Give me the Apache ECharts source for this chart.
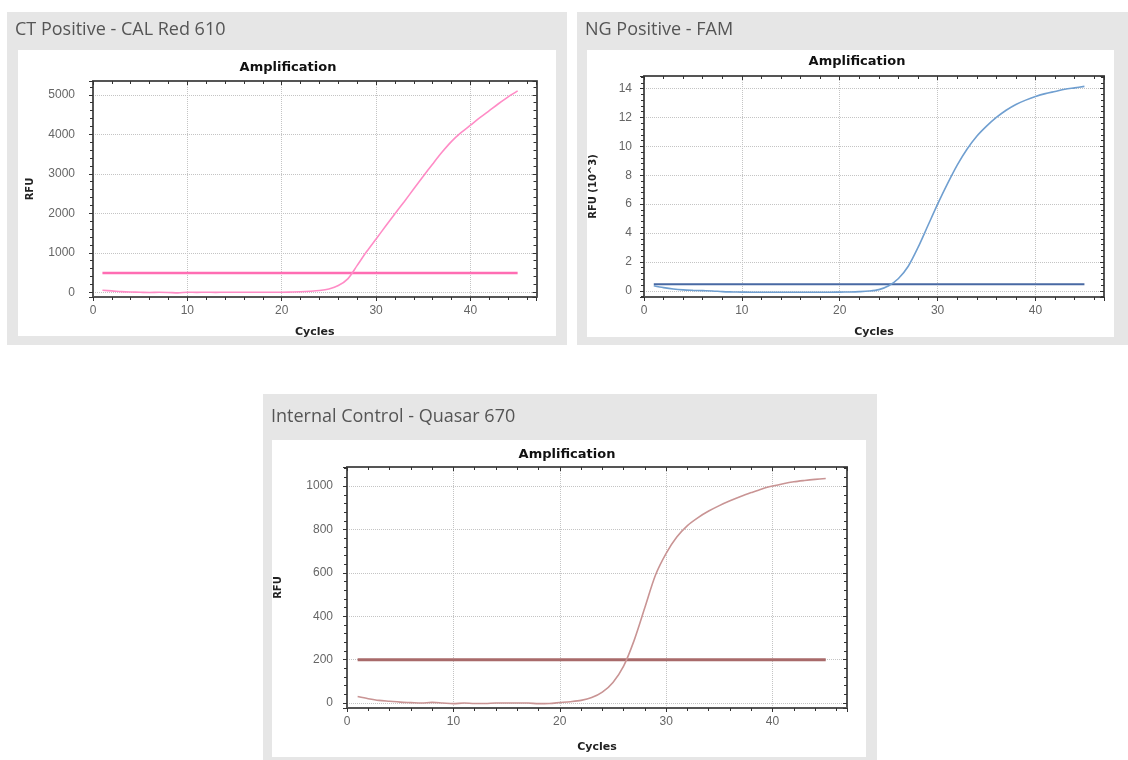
<!DOCTYPE html>
<html>
<head>
<meta charset="utf-8">
<script src="https://cdn.jsdelivr.net/npm/echarts@6/dist/echarts.min.js"></script>
<style>
  html, body { margin: 0; padding: 0; background: #fff; }
  #main { width: 1128px; height: 760px; }
</style>
</head>
<body>
<div id="main"></div>
<script>
// cycle numbers (x) shared by all three runs
var cycles = [1, 2, 3, 4, 5, 6, 7, 8, 9, 10, 11, 12, 13, 14, 15, 16, 17, 18, 19, 20,
  21, 22, 23, 24, 25, 26, 27, 28, 29, 30, 31, 32, 33, 34, 35, 36, 37, 38, 39, 40,
  41, 42, 43, 44, 45];

// CT Positive - CAL Red 610 (RFU)
var ctRfu = [50, 35, 15, 5, 0, -5, 0, -5, -15, 0, -3, 0, -2, 0, 0, 0, 0, 0, 0, 0,
  5, 12, 25, 45, 85, 170, 340, 680, 1030, 1350, 1670, 1990, 2300, 2620, 2940, 3250, 3550, 3820, 4040, 4230,
  4420, 4600, 4780, 4950, 5100];
var ctThreshold = 490;

// NG Positive - FAM (RFU x 10^3)
var ngRfu = [0.35, 0.22, 0.12, 0.06, 0.03, 0.01, -0.01, -0.06, -0.08, -0.09, -0.1, -0.1, -0.1, -0.1, -0.1, -0.1, -0.1, -0.1, -0.1, -0.09,
  -0.08, -0.06, -0.02, 0.08, 0.35, 0.85, 1.7, 3.0, 4.5, 6.0, 7.4, 8.7, 9.8, 10.7, 11.4, 12.0, 12.5, 12.9, 13.2, 13.45,
  13.65, 13.8, 13.95, 14.05, 14.15];
var ngThreshold = 0.45;

// Internal Control - Quasar 670 (RFU)
var icRfu = [30, 20, 12, 8, 4, 2, 0, 3, 0, -3, 0, -2, -2, 0, 0, 0, 0, -3, -2, 2,
  6, 12, 25, 50, 95, 170, 290, 440, 590, 690, 765, 818, 855, 885, 910, 932, 952, 970, 987, 1000,
  1011, 1020, 1026, 1031, 1035];
var icThreshold = 200;

var panelTitles = ['CT Positive - CAL Red 610', 'NG Positive - FAM', 'Internal Control - Quasar 670'];
var yNames = ['RFU', 'RFU (10^3)', 'RFU'];
var yMin = [-120, -0.43, -23];
var yMax = [5350, 14.87, 1088];
var yStep = [1000, 2, 200];

var panels = [
  { box: [7, 12, 560, 333], white: [18, 50, 538, 286], titleTop: 21, grid: [93, 81, 443.5, 216], amp: [288, 61], yGap: 58, xGap: 30, split: 5, labGap: 18,
    data: ctRfu, thr: ctThreshold, line: '#ff8cc6', thrColor: '#ff6db3', thrWidth: 2.5 },
  { box: [577, 12, 551, 333], white: [587, 50, 527, 287], titleTop: 21, grid: [644, 76, 460, 221], amp: [857, 55], yGap: 46, xGap: 30, split: 7, labGap: 12,
    data: ngRfu, thr: ngThreshold, line: '#709fd0', thrColor: '#4869a3', thrWidth: 2 },
  { box: [263, 394, 614, 366], white: [272, 440, 594, 317], titleTop: 408, grid: [347, 467, 500, 241], amp: [567, 448], yGap: 64, xGap: 34, split: 5, labGap: 14,
    data: icRfu, thr: icThreshold, line: '#c99494', thrColor: '#a86a6a', thrWidth: 3 }
];

var axisColor = '#555';
var titles = [], grids = [], xAxes = [], yAxes = [], series = [], graphics = [];

panels.forEach(function (p, i) {
  graphics.push({ type: 'rect', z: -10, shape: { x: p.box[0], y: p.box[1], width: p.box[2], height: p.box[3] }, style: { fill: '#e6e6e6' } });
  graphics.push({ type: 'rect', z: -9, shape: { x: p.white[0], y: p.white[1], width: p.white[2], height: p.white[3] }, style: { fill: '#fff' } });

  titles.push({
    text: panelTitles[i], left: p.box[0] + 8, top: p.titleTop, padding: 0,
    textStyle: { fontFamily: 'Open Sans', fontWeight: 'normal', fontSize: 18, color: '#555' }
  });
  titles.push({
    text: 'Amplification', left: p.amp[0], top: p.amp[1], textAlign: 'center', padding: 0,
    textStyle: { fontFamily: 'DejaVu Sans', fontWeight: 'bold', fontSize: 13, color: '#111' }
  });

  grids.push({ left: p.grid[0], top: p.grid[1], width: p.grid[2], height: p.grid[3], show: false });

  var step = yStep[i];
  xAxes.push({
    gridIndex: i, type: 'value', min: 0, max: 47, interval: 10,
    name: 'Cycles', nameLocation: 'middle', nameGap: p.xGap,
    nameTextStyle: { fontFamily: 'DejaVu Sans', fontWeight: 'bold', fontSize: 11, color: '#222' },
    axisLine: { show: true, onZero: false, lineStyle: { color: axisColor, width: 2 } },
    axisTick: { show: true, length: 4, lineStyle: { color: '#333' } },
    minorTick: { show: true, splitNumber: 5, length: 3, lineStyle: { color: '#333' } },
    axisLabel: { margin: 8, fontFamily: 'Liberation Sans', fontSize: 12, color: '#666',
      formatter: function (v) { return v % 10 === 0 ? v : ''; } },
    splitLine: { show: true, lineStyle: { type: 'dotted', color: '#c4c4c4', width: 1 } }
  });
  xAxes.push({
    gridIndex: i, type: 'value', position: 'top', min: 0, max: 47, interval: 10,
    axisLine: { show: true, onZero: false, lineStyle: { color: axisColor, width: 2 } },
    axisTick: { show: true, inside: true, length: 4, lineStyle: { color: '#333' } },
    minorTick: { show: true, splitNumber: 5, length: 3, lineStyle: { color: '#333' } },
    axisLabel: { show: false }, splitLine: { show: false }
  });
  yAxes.push({
    gridIndex: i, type: 'value', min: yMin[i], max: yMax[i], splitNumber: p.split,
    name: yNames[i], nameLocation: 'middle', nameGap: p.yGap, nameRotate: 90,
    nameTextStyle: { fontFamily: 'DejaVu Sans', fontWeight: 'bold', fontSize: 10, color: '#222' },
    axisLine: { show: true, onZero: false, lineStyle: { color: axisColor, width: 2 } },
    axisTick: { show: true, length: 4, lineStyle: { color: '#333' } },
    minorTick: { show: true, splitNumber: 5, length: 3, lineStyle: { color: '#333' } },
    axisLabel: { margin: p.labGap, fontFamily: 'Liberation Sans', fontSize: 12, color: '#666',
      formatter: function (v) { var r = Math.abs(v / step - Math.round(v / step)); return r < 1e-6 ? String(Math.round(v)) : ''; } },
    splitLine: { show: true, lineStyle: { type: 'dotted', color: '#c4c4c4', width: 1 } }
  });
  yAxes.push({
    gridIndex: i, type: 'value', position: 'right', min: yMin[i], max: yMax[i], splitNumber: p.split,
    axisLine: { show: true, onZero: false, lineStyle: { color: axisColor, width: 2 } },
    axisTick: { show: true, inside: true, length: 4, lineStyle: { color: '#333' } },
    minorTick: { show: true, splitNumber: 5, length: 3, lineStyle: { color: '#333' } },
    axisLabel: { show: false }, splitLine: { show: false }
  });

  series.push({
    type: 'line', xAxisIndex: 2 * i, yAxisIndex: 2 * i, showSymbol: false, smooth: 0.3, z: 3,
    lineStyle: { color: p.line, width: 1.6 },
    data: cycles.map(function (c, k) { return [c, p.data[k]]; })
  });
  series.push({
    type: 'line', xAxisIndex: 2 * i, yAxisIndex: 2 * i, showSymbol: false, z: 2,
    lineStyle: { color: p.thrColor, width: p.thrWidth },
    data: [[cycles[0], p.thr], [cycles[cycles.length - 1], p.thr]]
  });
});

var myChart = echarts.init(document.getElementById('main'));
myChart.setOption({
  animation: false,
  backgroundColor: '#fff',
  title: titles,
  graphic: graphics,
  grid: grids,
  xAxis: xAxes,
  yAxis: yAxes,
  series: series
});
</script>
</body>
</html>
